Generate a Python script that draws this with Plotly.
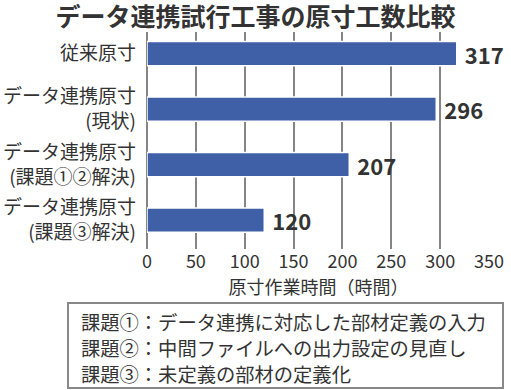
import plotly.graph_objects as go

categories = ["従来原寸", "データ連携原寸<br>(現状)", "データ連携原寸<br>(課題①②解決)", "データ連携原寸<br>(課題③解決)"]
values = [317, 296, 207, 120]
notes = ["課題①：データ連携に対応した部材定義の入力",
         "課題②：中間ファイルへの出力設定の見直し",
         "課題③：未定義の部材の定義化"]
tick_vals = [0, 50, 100, 150, 200, 250, 300, 350]

FONT = "Noto Sans CJK JP"
TXT = "#333333"

fig = go.Figure(go.Bar(
    x=values, y=categories, orientation="h",
    marker=dict(color="#3F5FA7", line=dict(color="white", width=1.5)),
    width=0.44,
    text=[f"<b> {v}</b>" for v in values], textposition="outside",
    constraintext="none",
    textfont=dict(family=FONT, size=22, color=TXT),
    cliponaxis=False,
))

fig.update_layout(
    width=511, height=390,
    margin=dict(l=147, r=21, t=32, b=141),
    paper_bgcolor="white", plot_bgcolor="white",
    showlegend=False,
    title=dict(text="<b>データ連携試行工事の原寸工数比較</b>", x=0.5, xanchor="center", xref="container",
               y=1 - 17.5/390, yanchor="middle", font=dict(family=FONT, size=25, color=TXT)),
    font=dict(family=FONT, color=TXT),
)
fig.update_xaxes(range=[0, 351], tickvals=tick_vals, showgrid=True, gridcolor="#858585", gridwidth=1.5,
                 zeroline=True, zerolinecolor="#858585", zerolinewidth=1.5, automargin=False,
                 showline=False, ticks="", tickfont=dict(family=FONT, size=18, color=TXT),
                 title=dict(text="原寸作業時間（時間）", font=dict(family=FONT, size=18, color=TXT), standoff=0))
fig.update_yaxes(type="category", categoryarray=categories, range=[3.52, -0.39], automargin=False,
                 showgrid=False, zeroline=False, showline=False, ticks="", ticklabelstandoff=10,
                 tickfont=dict(family=FONT, size=19, color=TXT))

fig.add_shape(type="rect", xref="paper", yref="paper",
              x0=(68-147)/343, x1=(503-147)/343, y0=(249-388)/217, y1=(249-303)/217,
              line=dict(color="#888888", width=2), fillcolor="white")
for i, n in enumerate(notes):
    yp = 322 + i * 26
    fig.add_annotation(text=n, xref="paper", yref="paper", x=(80-147)/343, xanchor="left",
                       y=(249-yp)/217, yanchor="middle", showarrow=False, borderpad=0,
                       font=dict(family=FONT, size=19.3, color=TXT))

fig.write_html("out.html", config={"displayModeBar": False},
               post_script="document.body.style.margin='0';document.body.style.overflow='hidden';")
